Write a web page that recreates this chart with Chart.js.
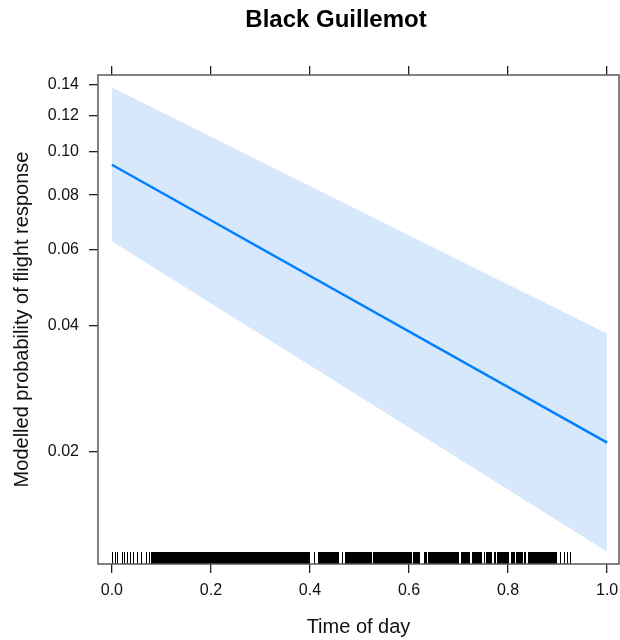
<!DOCTYPE html>
<html>
<head>
<meta charset="utf-8">
<script src="https://cdn.jsdelivr.net/npm/chart.js@4"></script>
<style>
  body { margin: 0; background: #fff; }
</style>
</head>
<body>
<canvas id="fitChart" width="620" height="640"></canvas>
<script>
// valores
const fitTime = [0, 1];
const fitProb = [0.0936, 0.0210];
const lowerProb = [0.0628, 0.01144];
const upperProb = [0.1378, 0.0382];

const yTickValues = [0.02, 0.04, 0.06, 0.08, 0.10, 0.12, 0.14];
const yTickLabels = ["0.02", "0.04", "0.06", "0.08", "0.10", "0.12", "0.14"];
const xTickValues = [0, 0.2, 0.4, 0.6, 0.8, 1.0];
const xTickLabels = ["0.0", "0.2", "0.4", "0.6", "0.8", "1.0"];

// rug: observacoes isoladas e trechos densos
const rugTicks = [0.0, 0.006, 0.011, 0.020, 0.024, 0.030, 0.036, 0.043, 0.051, 0.059, 0.068, 0.075,
    0.409, 0.465, 0.904, 0.912, 0.918, 0.925];
const rugBlocks = [[0.079, 0.401], [0.417, 0.459], [0.471, 0.525], [0.528, 0.606], [0.609, 0.623],
    [0.631, 0.636], [0.639, 0.701], [0.704, 0.724], [0.727, 0.748], [0.751, 0.753], [0.756, 0.768],
    [0.771, 0.775], [0.778, 0.802], [0.805, 0.813], [0.816, 0.830], [0.833, 0.837], [0.840, 0.898]];

const logit = (p) => Math.log(p / (1 - p));
const pontos = (probs) => fitTime.map((t, i) => ({ x: t, y: logit(probs[i]) }));

Chart.defaults.font.family = "'Liberation Sans', Arial, sans-serif";
Chart.defaults.color = '#111';

const boxPlugin = {
    id: 'boxPlugin',
    afterDatasetsDraw(chart) {
        const { ctx, chartArea: a, scales } = chart;
        const x = scales.x;
        ctx.save();
        // rug
        ctx.fillStyle = '#000';
        const rugH = 12;
        rugTicks.forEach(t => {
            const px = Math.round(x.getPixelForValue(t));
            ctx.fillRect(px, a.bottom - rugH, 1, rugH);
        });
        rugBlocks.forEach(([s, e]) => {
            const p0 = Math.round(x.getPixelForValue(s));
            const p1 = Math.round(x.getPixelForValue(e));
            ctx.fillRect(p0, a.bottom - rugH, p1 - p0, rugH);
        });
        // caixa
        ctx.strokeStyle = '#5a5a5a';
        ctx.lineWidth = 1.5;
        ctx.strokeRect(a.left, a.top, a.right - a.left, a.bottom - a.top);
        // titulo
        ctx.fillStyle = '#000';
        ctx.font = "bold 24px 'Liberation Sans', Arial, sans-serif";
        ctx.textAlign = 'center';
        ctx.textBaseline = 'alphabetic';
        ctx.fillText('Black Guillemot', 336, 27);
        ctx.restore();
    }
};

const semPadding = (scale) => {
    scale.paddingLeft = 0;
    scale.paddingRight = 0;
    scale.paddingTop = 0;
    scale.paddingBottom = 0;
};

const ctx = document.getElementById('fitChart').getContext('2d');
const fitChart = new Chart(ctx, {
    type: 'line',
    data: {
        datasets: [
            {
                label: 'fit',
                data: pontos(fitProb),
                borderColor: '#0080ff',
                borderWidth: 2.5,
                pointRadius: 0,
                fill: false
            },
            {
                label: 'upper',
                data: pontos(upperProb),
                borderWidth: 0,
                borderColor: 'rgba(0,0,0,0)',
                backgroundColor: '#d7e8fc',
                pointRadius: 0,
                fill: '+1'
            },
            {
                label: 'lower',
                data: pontos(lowerProb),
                borderWidth: 0,
                borderColor: 'rgba(0,0,0,0)',
                pointRadius: 0,
                fill: false
            }
        ]
    },
    plugins: [boxPlugin],
    options: {
        responsive: false,
        animation: false,
        layout: { padding: { right: 1 } },
        plugins: {
            legend: { display: false },
            tooltip: { enabled: false }
        },
        scales: {
            x: {
                type: 'linear',
                position: 'bottom',
                min: -0.028,
                max: 1.024,
                afterBuildTicks: (scale) => { scale.ticks = xTickValues.map(v => ({ value: v })); },
                afterFit: (scale) => { scale.height = 76; semPadding(scale); },
                ticks: {
                    font: { size: 16 },
                    padding: 8,
                    maxRotation: 0,
                    callback: (v, i) => xTickLabels[i]
                },
                grid: { drawOnChartArea: false, tickLength: 9, color: '#222', lineWidth: 1.3 },
                border: { display: false },
                title: {
                    display: true,
                    text: 'Time of day',
                    font: { size: 20 },
                    padding: { top: 0, bottom: 1 }
                }
            },
            x2: {
                type: 'linear',
                position: 'top',
                min: -0.028,
                max: 1.024,
                afterBuildTicks: (scale) => { scale.ticks = xTickValues.map(v => ({ value: v })); },
                afterFit: (scale) => { scale.height = 75; semPadding(scale); },
                ticks: { display: false },
                grid: { drawOnChartArea: false, tickLength: 9, color: '#222', lineWidth: 1.3 },
                border: { display: false }
            },
            y: {
                type: 'linear',
                min: -4.528,
                max: -1.763,
                afterBuildTicks: (scale) => { scale.ticks = yTickValues.map(p => ({ value: logit(p) })); },
                afterFit: (scale) => { scale.width = 98; semPadding(scale); },
                ticks: {
                    font: { size: 16 },
                    padding: 10,
                    callback: (v, i) => yTickLabels[i]
                },
                grid: { drawOnChartArea: false, tickLength: 9, color: '#222', lineWidth: 1.3 },
                border: { display: false },
                title: {
                    display: true,
                    text: 'Modelled probability of flight response',
                    font: { size: 20 },
                    padding: { top: 10, bottom: 0 }
                }
            }
        }
    }
});
</script>
</body>
</html>
